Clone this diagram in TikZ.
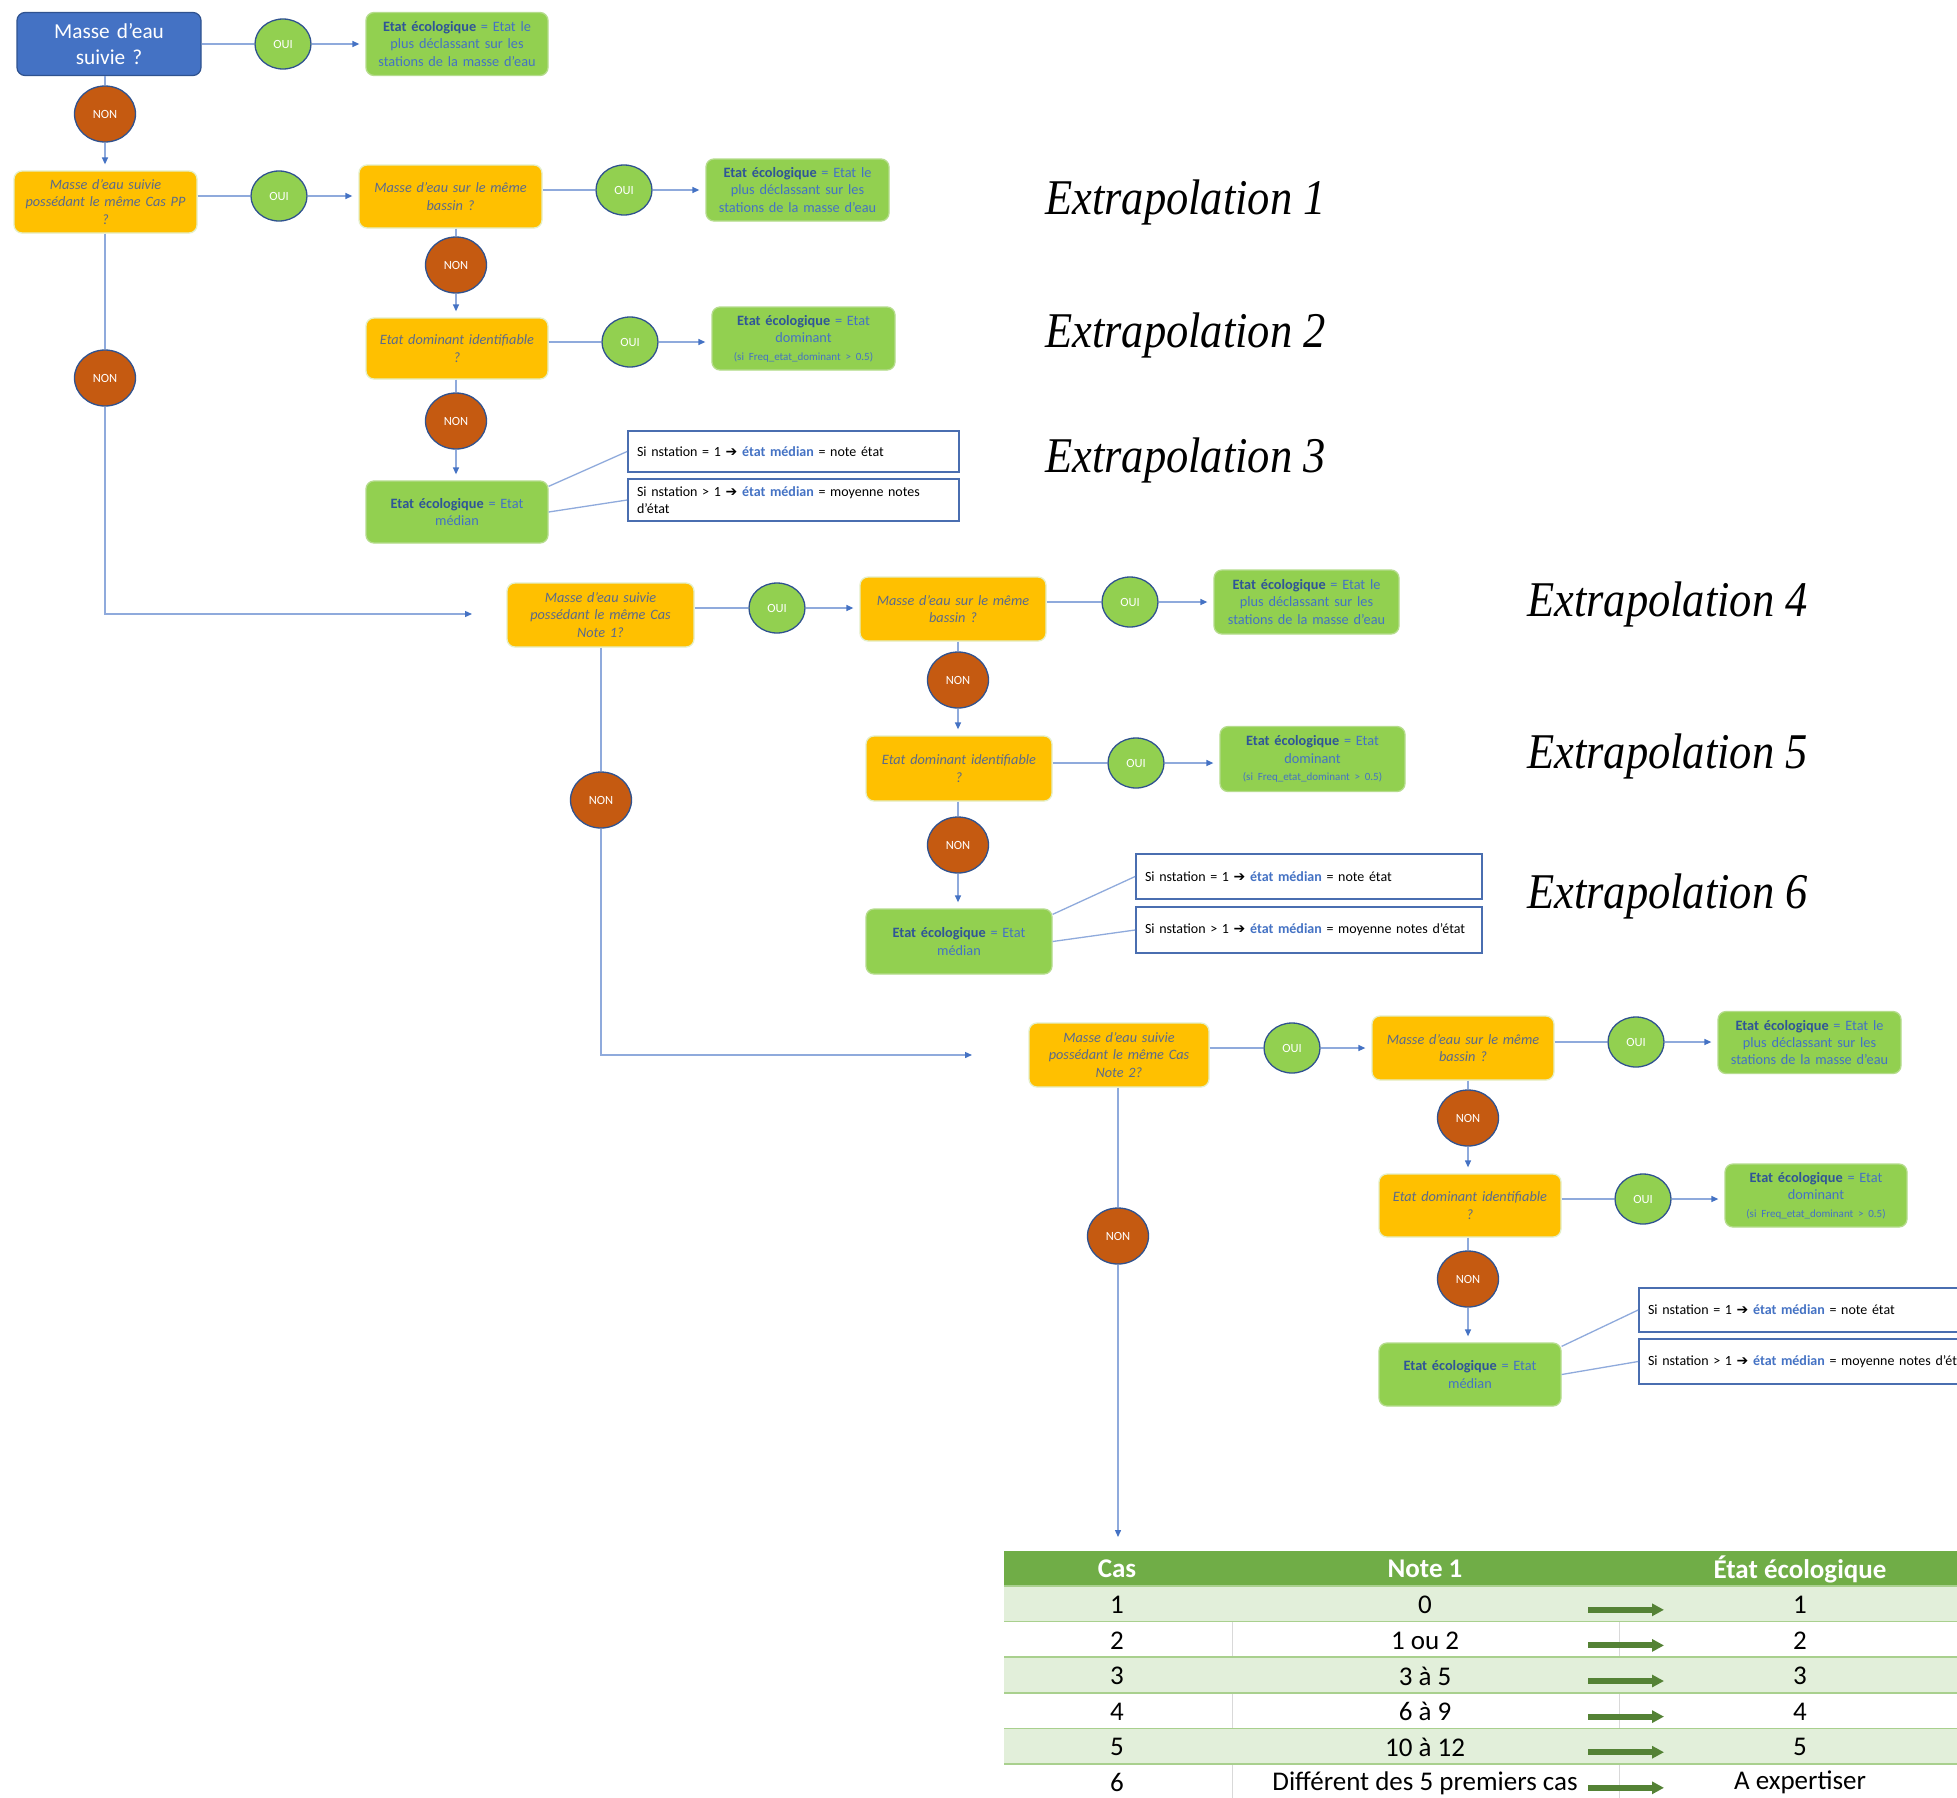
\documentclass[tikz,border=0pt]{standalone}
\usepackage{fontspec}
\usepackage{graphicx}
\setmainfont{Carlito}
\newfontfamily\serfont{Liberation Serif}
\newfontfamily\dejafont{DejaVu Sans}
\usetikzlibrary{arrows.meta,shapes.geometric,calc}
\definecolor{bluebox}{HTML}{4472C4}
\definecolor{blueborder}{HTML}{2F528F}
\definecolor{greenbox}{HTML}{92D050}
\definecolor{glborder}{HTML}{B5DC8C}
\definecolor{yellowbox}{HTML}{FFC000}
\definecolor{ylborder}{HTML}{E4EFC8}
\definecolor{nonfill}{HTML}{C55A11}
\definecolor{linecol}{HTML}{8FAADC}
\definecolor{arrowcol}{HTML}{4472C4}
\definecolor{ytext}{HTML}{5A6A8C}
\definecolor{gtextbold}{HTML}{2F5597}
\definecolor{gtext}{HTML}{4472C4}
\definecolor{tbborder}{HTML}{4A6EB0}
\definecolor{hdr}{HTML}{70AD47}
\definecolor{band}{HTML}{E2EFDA}
\definecolor{bandline}{HTML}{A9D08E}
\definecolor{tarrow}{HTML}{548235}
\definecolor{divcol}{HTML}{D9D9D9}
\newcommand{\ecol}{{\bfseries\color{gtextbold}Etat écologique}}
\newcommand{\emed}{{\bfseries\color{gtext}état médian}}
\newcommand{\harr}{{\dejafont\bfseries ➔}}
\begin{document}
\begin{tikzpicture}[x=1pt,y=-1pt,
  boxbase/.style={rounded corners=8pt, align=center, inner sep=3pt, text width=172pt,
    font=\fontsize{14.3}{17.4}\selectfont},
  wh/.style 2 args={minimum width=#1, minimum height=#2},
  startbox/.style={boxbase, fill=bluebox, draw=blueborder, line width=1.2pt, text=white,
    font=\fontsize{21.3}{25.5}\selectfont},
  qbox/.style={boxbase, fill=yellowbox, draw=ylborder, line width=1.3pt, text=ytext,
    font=\fontsize{14.3}{17.4}\selectfont\itshape},
  gbox/.style={boxbase, fill=greenbox, draw=glborder, line width=1.3pt, text=gtext},
  oui/.style={ellipse, fill=greenbox, draw=blueborder, line width=1.3pt, minimum width=56pt,
    minimum height=50pt, inner sep=0pt, text=white, font=\fontsize{12.5}{14}\selectfont},
  non/.style={ellipse, fill=nonfill, draw=blueborder, line width=1.3pt, minimum width=61pt,
    minimum height=56pt, inner sep=0pt, text=white, font=\fontsize{12.5}{14}\selectfont},
  tbox/.style={draw=tbborder, line width=1.8pt, fill=white, align=left, inner xsep=9pt,
    inner ysep=3pt, font=\fontsize{14}{17}\selectfont, text=black},
  conn/.style={draw=linecol, line width=1.3pt},
  arr/.style={conn, shorten >=6pt, -{Triangle[length=7pt,width=6pt,color=arrowcol]}},
  extra/.style={anchor=base west, inner sep=0pt, font=\serfont\itshape\fontsize{50}{55}\selectfont},
  tcell/.style={inner sep=0pt, font=\fontsize{27}{30}\selectfont},
  tarr/.style={draw=tarrow, line width=6pt, -{Triangle[length=12pt,width=12pt]}}
]
\useasboundingbox (0,0) rectangle (1957,1797);
\fill[white] (0,0) rectangle (1957,1797);
\clip (0,0) rectangle (1957,1797);

% ---------- group 0 ----------
\node[startbox, wh={184pt}{63pt}] (blue) at (109,44) {Masse d’eau\\suivie ?};
\node[oui] (oui1) at (283,44) {OUI};
\node[gbox, wh={182pt}{63pt}] (g1) at (457,44) {\ecol{} = Etat le\\plus déclassant sur les\\stations de la masse d’eau};
\node[non] (non1) at (105,114) {NON};

% ---------- group 1 ----------
\node[qbox, wh={183pt}{62pt}] (ypp) at (105.5,202) {Masse d’eau suivie\\possédant le même Cas PP\\?};
\node[oui] (oui2) at (279,196) {OUI};
\node[qbox, wh={183pt}{63pt}] (bas1) at (450.5,196.5) {Masse d’eau sur le même\\bassin ?};
\node[oui] (oui3) at (624,190) {OUI};
\node[gbox, wh={183pt}{62pt}] (g2) at (797.5,190) {\ecol{} = Etat le\\plus déclassant sur les\\stations de la masse d’eau};
\node[non] (non2) at (456,265) {NON};
\node[qbox, wh={182pt}{61pt}] (dom1) at (457,348.5) {Etat dominant identifiable\\?};
\node[oui] (oui4) at (630,342) {OUI};
\node[gbox, wh={183pt}{63pt}] (g3) at (803.5,338.5) {\ecol{} = Etat\\dominant\\{\fontsize{11}{17.4}\selectfont (si Freq\_etat\_dominant > 0.5)}};
\node[non] (non3) at (456,421) {NON};
\node[gbox, wh={182pt}{62pt}] (med1) at (457,512) {\ecol{} = Etat\\médian};
\node[tbox, text width=313pt, minimum height=41pt] (tb1) at (793.5,451.5) {Si nstation = 1 \harr{} \emed{} = note état};
\node[tbox, text width=313pt, minimum height=42pt] (tb2) at (793.5,500) {Si nstation > 1 \harr{} \emed{} = moyenne notes\\d’état};
\node[non] (non4) at (105,378) {NON};
\coordinate (c1) at (105,614);
\coordinate (e1) at (472,614);

% ---------- group 2 ----------
\node[qbox, wh={187pt}{64pt}] (note1) at (600.5,615) {Masse d’eau suivie\\possédant le même Cas\\Note 1?};
\node[oui] (oui5) at (777,608) {OUI};
\node[qbox, wh={186pt}{64pt}] (bas2) at (953,609) {Masse d’eau sur le même\\bassin ?};
\node[oui] (oui6) at (1130,602) {OUI};
\node[gbox, wh={185pt}{64pt}] (g4) at (1306.5,602) {\ecol{} = Etat le\\plus déclassant sur les\\stations de la masse d’eau};
\node[non] (non5) at (958,680) {NON};
\node[qbox, wh={186pt}{65pt}] (dom2) at (959,768.5) {Etat dominant identifiable\\?};
\node[oui] (oui7) at (1136,763) {OUI};
\node[gbox, wh={185pt}{65pt}] (g5) at (1312.5,759) {\ecol{} = Etat\\dominant\\{\fontsize{11}{17.4}\selectfont (si Freq\_etat\_dominant > 0.5)}};
\node[non] (non6) at (958,845) {NON};
\node[gbox, wh={186pt}{65pt}] (med2) at (959,941.5) {\ecol{} = Etat\\médian};
\node[tbox, text width=328pt, minimum height=45pt] (tb3) at (1309,876.5) {Si nstation = 1 \harr{} \emed{} = note état};
\node[tbox, text width=328pt, minimum height=46pt] (tb4) at (1309,930) {Si nstation > 1 \harr{} \emed{} = moyenne notes d’état};
\node[non] (non7) at (601,800) {NON};
\coordinate (c2) at (601,1055);
\coordinate (e2) at (972,1055);

% ---------- group 3 ----------
\node[qbox, wh={180pt}{64pt}] (note2) at (1119,1055) {Masse d’eau suivie\\possédant le même Cas\\Note 2?};
\node[oui] (oui8) at (1292,1048) {OUI};
\node[qbox, wh={182pt}{64pt}] (bas3) at (1463,1048) {Masse d’eau sur le même\\bassin ?};
\node[oui] (oui9) at (1636,1042) {OUI};
\node[gbox, wh={183pt}{62pt}] (g6) at (1809.5,1042.5) {\ecol{} = Etat le\\plus déclassant sur les\\stations de la masse d’eau};
\node[non] (non8) at (1468,1118) {NON};
\node[qbox, wh={182pt}{63pt}] (dom3) at (1470,1205.5) {Etat dominant identifiable\\?};
\node[oui] (oui10) at (1643,1199) {OUI};
\node[gbox, wh={182pt}{63pt}] (g7) at (1816,1195.5) {\ecol{} = Etat\\dominant\\{\fontsize{11}{17.4}\selectfont (si Freq\_etat\_dominant > 0.5)}};
\node[non] (non9) at (1468,1279) {NON};
\node[gbox, wh={182pt}{63pt}] (med3) at (1470,1374.5) {\ecol{} = Etat\\médian};
\node[tbox, text width=328pt, minimum height=44pt] (tb5) at (1812,1310) {Si nstation = 1 \harr{} \emed{} = note état};
\node[tbox, text width=328pt, minimum height=45pt] (tb6) at (1812,1361.5) {Si nstation > 1 \harr{} \emed{} = moyenne notes d’état};
\node[non] (non10) at (1118,1236) {NON};
\coordinate (e3) at (1118,1537);

% ---------- connectors ----------
\draw[conn] (oui1 -| blue.east) -- (oui1.west);
\draw[arr] (oui1.east) -- (oui1 -| g1.west);
\draw[conn] (blue.south -| non1) -- (non1.north);
\draw[arr] (non1.south) -- (non1 |- ypp.north);

\draw[conn] (oui2 -| ypp.east) -- (oui2.west);
\draw[arr] (oui2.east) -- (oui2 -| bas1.west);
\draw[conn] (oui3 -| bas1.east) -- (oui3.west);
\draw[arr] (oui3.east) -- (oui3 -| g2.west);
\draw[conn] (bas1.south -| non2) -- (non2.north);
\draw[arr] (non2.south) -- (non2 |- dom1.north);
\draw[conn] (oui4 -| dom1.east) -- (oui4.west);
\draw[arr] (oui4.east) -- (oui4 -| g3.west);
\draw[conn] (dom1.south -| non3) -- (non3.north);
\draw[arr] (non3.south) -- (non3 |- med1.north);
\draw[conn] ([yshift=-6pt]med1.north east) -- (tb1.west);
\draw[conn] (med1.east) -- (tb2.west);
\draw[conn] (ypp.south -| non4) -- (non4.north);
\draw[arr, shorten >=0pt] (non4.south) -- (c1) -- (e1);

\draw[conn] (oui5 -| note1.east) -- (oui5.west);
\draw[arr] (oui5.east) -- (oui5 -| bas2.west);
\draw[conn] (oui6 -| bas2.east) -- (oui6.west);
\draw[arr] (oui6.east) -- (oui6 -| g4.west);
\draw[conn] (bas2.south -| non5) -- (non5.north);
\draw[arr] (non5.south) -- (non5 |- dom2.north);
\draw[conn] (oui7 -| dom2.east) -- (oui7.west);
\draw[arr] (oui7.east) -- (oui7 -| g5.west);
\draw[conn] (dom2.south -| non6) -- (non6.north);
\draw[arr] (non6.south) -- (non6 |- med2.north);
\draw[conn] ([yshift=-6pt]med2.north east) -- (tb3.west);
\draw[conn] (med2.east) -- (tb4.west);
\draw[conn] (note1.south -| non7) -- (non7.north);
\draw[arr, shorten >=0pt] (non7.south) -- (c2) -- (e2);

\draw[conn] (oui8 -| note2.east) -- (oui8.west);
\draw[arr] (oui8.east) -- (oui8 -| bas3.west);
\draw[conn] (oui9 -| bas3.east) -- (oui9.west);
\draw[arr] (oui9.east) -- (oui9 -| g6.west);
\draw[conn] (bas3.south -| non8) -- (non8.north);
\draw[arr] (non8.south) -- (non8 |- dom3.north);
\draw[conn] (oui10 -| dom3.east) -- (oui10.west);
\draw[arr] (oui10.east) -- (oui10 -| g7.west);
\draw[conn] (dom3.south -| non9) -- (non9.north);
\draw[arr] (non9.south) -- (non9 |- med3.north);
\draw[conn] ([yshift=-4pt]med3.north east) -- (tb5.west);
\draw[conn] (med3.east) -- (tb6.west);
\draw[conn] (note2.south -| non10) -- (non10.north);
\draw[arr, shorten >=0pt] (non10.south) -- (e3);

% ---------- extrapolation labels ----------
\node[extra] (x1) at (1045,214) {\scalebox{0.89}[1]{Extrapolation 1}};
\node[extra] (x2) at (1045,347) {\scalebox{0.89}[1]{Extrapolation 2}};
\node[extra] (x3) at (1045,472) {\scalebox{0.89}[1]{Extrapolation 3}};
\node[extra] (x4) at (1527,616) {\scalebox{0.89}[1]{Extrapolation 4}};
\node[extra] (x5) at (1527,768) {\scalebox{0.89}[1]{Extrapolation 5}};
\node[extra] (x6) at (1527,908) {\scalebox{0.89}[1]{Extrapolation 6}};

% ---------- table ----------
\fill[hdr] (1004,1551) rectangle (1960,1586);
\node[tcell, text=white, font=\fontsize{27}{30}\selectfont\bfseries] (hcas) at (1117,1569) {Cas};
\node[tcell, text=white, font=\fontsize{27}{30}\selectfont\bfseries] (hnote) at (1425,1569) {Note 1};
\node[tcell, text=white, font=\fontsize{27}{30}\selectfont\bfseries] (hetat) at (1800,1569) {État écologique};
\foreach \i/\cas/\note/\etat in {1/1/0/1, 2/2/1 ou 2/2, 3/3/3 à 5/3, 4/4/6 à 9/4, 5/5/10 à 12/5, 6/6/Différent des 5 premiers cas/A expertiser} {
  \pgfmathsetmacro{\ya}{1586+35.6*(\i-1)}
  \pgfmathsetmacro{\yb}{\ya+35.6}
  \pgfmathsetmacro{\yc}{\ya+17.8}
  \ifodd\i
    \fill[band] (1004,\ya) rectangle (1960,\yb);
  \else
    \draw[divcol, line width=1pt] (1232,\ya) -- (1232,\yb);
    \draw[divcol, line width=1pt] (1619,\ya) -- (1619,\yb);
  \fi
  \node[tcell] (cas\i) at (1117,\yc+1) {\cas};
  \node[tcell] (note\i) at (1425,\yc+1) {\note};
  \node[tcell] (etat\i) at (1800,\yc+1) {\etat};
  \draw[tarr] (1588,\yc+6) -- (1664,\yc+6);
}
\foreach \k in {0,...,5} {
  \draw[bandline, line width=1.6pt] (1004,1586+35.6*\k) -- (1960,1586+35.6*\k);
}
\end{tikzpicture}
\end{document}
